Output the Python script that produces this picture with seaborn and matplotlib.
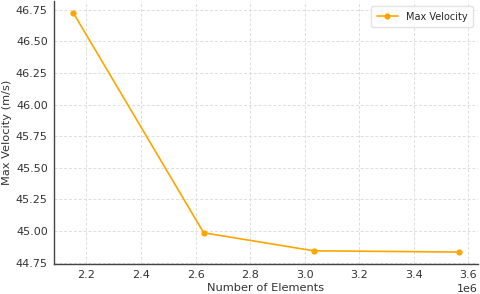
import matplotlib
matplotlib.use("Agg")
import matplotlib.pyplot as plt
import seaborn as sns
import pandas as pd

num_elements = [2152000, 2630000, 3033000, 3565000]
max_velocity = [46.724, 44.987, 44.845, 44.835]

df = pd.DataFrame({"Number of Elements": num_elements, "Max Velocity": max_velocity})

sns.set_style("whitegrid", {"grid.linestyle": "--", "grid.color": "#dddddd"})
plt.rcParams["font.family"] = ["DejaVu Sans"]

fig, ax = plt.subplots(figsize=(4.8, 2.94), dpi=100)
fig.subplots_adjust(left=0.1125, right=0.996, top=0.997, bottom=0.102)

sns.lineplot(
    data=df,
    x="Number of Elements",
    y="Max Velocity",
    marker="o",
    color="#FFA500",
    linewidth=1.2,
    markersize=4.5,
    markeredgewidth=0,
    label="Max Velocity",
    ax=ax,
)

ax.grid(linewidth=0.7, dashes=(3, 2))
ax.set_xlabel("Number of Elements", fontsize=8.2, color="#333333", labelpad=2)
ax.set_ylabel("Max Velocity (m/s)", fontsize=8.2, color="#333333", labelpad=3)
ax.tick_params(labelsize=8, colors="#333333", length=3, pad=1.5)
ax.xaxis.get_offset_text().set_fontsize(8)

for s in ["top", "right"]:
    ax.spines[s].set_visible(False)
for s in ["left", "bottom"]:
    ax.spines[s].set_color("#444444")
    ax.spines[s].set_linewidth(1.0)

ax.legend(loc="upper right", fontsize=7, frameon=True, edgecolor="#dddddd",
          fancybox=True, borderpad=0.6, handlelength=2.2)

plt.savefig("out.png", dpi=100)
plt.close()
